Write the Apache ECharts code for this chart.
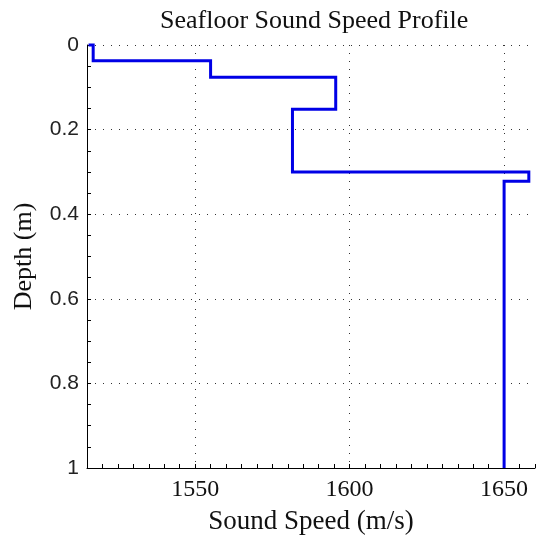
<!DOCTYPE html>
<html>
<head>
<meta charset="utf-8">
<script src="https://cdn.jsdelivr.net/npm/echarts@6/dist/echarts.min.js"></script>
<style>
  html, body { margin: 0; padding: 0; background: #fff; }
  #main { width: 536px; height: 542px; }
</style>
</head>
<body>
<div id="main"></div>
<script>
// sound speed profile (staircase corners)
var speeds = [1515.5, 1517, 1517, 1555, 1555, 1595.5, 1595.5, 1581.5, 1581.5, 1658, 1658, 1650, 1650];
var depths = [0, 0, 0.037, 0.037, 0.076, 0.076, 0.152, 0.152, 0.300, 0.300, 0.322, 0.322, 1];
var speedLabels = [1550, 1600, 1650];
var depthLabels = [0, 0.2, 0.4, 0.6, 0.8, 1];

var profile = [];
for (var i = 0; i < speeds.length; i++) {
  profile.push([speeds[i], depths[i]]);
}

var serif = '"Liberation Serif", "DejaVu Serif", serif';
var dotted = { color: '#333', width: 1, type: [1, 7] };
var xMin = 1515, xMax = 1660;

var myChart = echarts.init(document.getElementById('main'));
var option = {
  animation: false,
  backgroundColor: '#fff',
  title: {
    text: 'Seafloor Sound Speed Profile',
    left: 155,
    top: 3,
    textStyle: { fontFamily: serif, fontSize: 26, fontWeight: 'normal', color: '#111' }
  },
  grid: { left: 87, right: 1, top: 45, bottom: 74, containLabel: false, outerBoundsMode: 'none' },
  xAxis: [{
    // minor ticks every 5 m/s
    type: 'value', min: xMin, max: xMax, interval: 5,
    axisLine: { show: true, onZero: false, lineStyle: { color: '#000', width: 1 } },
    axisTick: { show: true, inside: true, length: 4, lineStyle: { color: '#000' } },
    axisLabel: { show: false },
    splitLine: { show: false }
  }, {
    // labels + dotted grid
    type: 'value', min: xMin, max: xMax, position: 'bottom',
    name: 'Sound Speed (m/s)',
    nameLocation: 'middle',
    nameGap: 40,
    nameTextStyle: { fontFamily: serif, fontSize: 27, color: '#111' },
    axisLine: { show: false, onZero: false },
    axisTick: { show: false, customValues: speedLabels },
    axisLabel: {
      fontFamily: serif, fontSize: 24, color: '#111', margin: 10, customValues: speedLabels,
      formatter: function (v) { return String(v); }
    },
    splitLine: { show: true, lineStyle: dotted }
  }],
  yAxis: [{
    type: 'value', inverse: true, min: 0, max: 1, interval: 0.05,
    axisLine: { show: true, onZero: false, lineStyle: { color: '#000', width: 1 } },
    axisTick: { show: true, inside: true, length: 4, lineStyle: { color: '#000' } },
    axisLabel: { show: false },
    splitLine: { show: false }
  }, {
    type: 'value', inverse: true, min: 0, max: 1, position: 'left',
    name: 'Depth (m)',
    nameLocation: 'middle',
    nameGap: 50,
    nameTextStyle: { fontFamily: serif, fontSize: 26, color: '#111' },
    axisLine: { show: false, onZero: false },
    axisTick: { show: false, customValues: depthLabels },
    axisLabel: {
      fontFamily: '"Liberation Sans", Arial, sans-serif', fontSize: 21, color: '#222', margin: 8,
      customValues: depthLabels,
      formatter: function (v) { return String(v); }
    },
    splitLine: { show: true, lineStyle: dotted }
  }],
  series: [{
    type: 'line',
    xAxisIndex: 0,
    yAxisIndex: 0,
    data: profile,
    showSymbol: false,
    clip: false,
    lineStyle: { color: '#0000e6', width: 3, join: 'miter' }
  }]
};
myChart.setOption(option);
window.onresize = myChart.resize;
</script>
</body>
</html>
